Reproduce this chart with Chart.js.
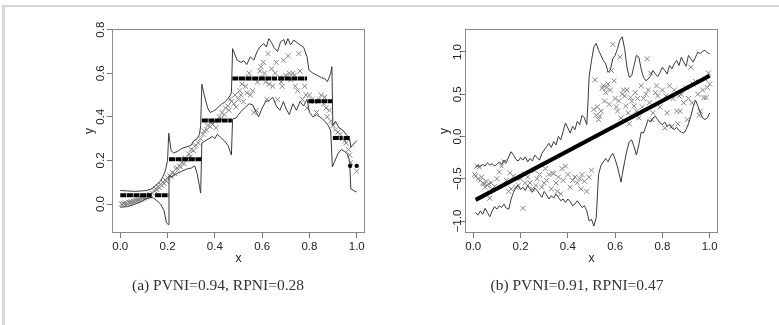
<!DOCTYPE html>
<html>
<head>
<meta charset="utf-8">
<script src="https://cdn.jsdelivr.net/npm/chart.js@4"></script>
<style>
body { margin: 0; background: #fff; width: 779px; height: 325px; position: relative; overflow: hidden; }
#frame { position: absolute; left: 2px; top: 5px; width: 777px; height: 320px; border-top: 2px solid #d6d6d6; border-left: 3px solid #d6d6d6; }
canvas { position: absolute; top: 0; }
.cap { position: absolute; top: 276px; font-family: "Liberation Serif", serif; font-size: 15.5px; color: #333; white-space: nowrap; transform: translateX(-50%); }
</style>
</head>
<body>
<div id="frame"></div>
<canvas id="chartA" width="320" height="300" style="left:60px"></canvas>
<canvas id="chartB" width="320" height="300" style="left:410px"></canvas>
<div class="cap" style="left:218px">(a) PVNI=0.94, RPNI=0.28</div>
<div class="cap" style="left:577px">(b) PVNI=0.91, RPNI=0.47</div>
<script>
// tick labels
var xTicks = [0, 0.2, 0.4, 0.6, 0.8, 1.0];
var yTicksA = [0, 0.2, 0.4, 0.6, 0.8];
var yTicksB = [-1, -0.5, 0, 0.5, 1];

// (a) observations
var obsA = [
  [0.005, 0.000], [0.010, -0.002], [0.015, 0.003], [0.020, 0.000], [0.025, 0.005], [0.030, 0.002],
  [0.035, 0.008], [0.040, 0.006], [0.045, 0.010], [0.050, 0.008], [0.055, 0.013], [0.060, 0.011],
  [0.065, 0.016], [0.070, 0.014], [0.075, 0.020], [0.080, 0.018], [0.085, 0.024], [0.090, 0.022],
  [0.095, 0.027], [0.100, 0.030], [0.105, 0.028], [0.110, 0.034], [0.115, 0.038], [0.120, 0.036],
  [0.125, 0.045], [0.135, 0.050], [0.145, 0.060], [0.150, 0.070], [0.155, 0.066], [0.160, 0.080],
  [0.165, 0.076], [0.170, 0.090], [0.175, 0.085], [0.180, 0.100], [0.185, 0.095], [0.190, 0.110],
  [0.195, 0.105], [0.200, 0.120], [0.210, 0.130], [0.215, 0.125], [0.220, 0.145], [0.230, 0.140],
  [0.235, 0.160], [0.240, 0.165], [0.250, 0.175], [0.255, 0.170], [0.260, 0.190], [0.270, 0.185],
  [0.275, 0.210], [0.280, 0.205], [0.290, 0.230], [0.295, 0.215], [0.300, 0.250], [0.310, 0.245],
  [0.315, 0.265], [0.320, 0.270], [0.330, 0.280], [0.340, 0.300], [0.350, 0.320], [0.355, 0.335],
  [0.365, 0.340], [0.370, 0.360], [0.380, 0.355], [0.385, 0.375], [0.390, 0.365], [0.400, 0.380],
  [0.405, 0.350], [0.420, 0.400], [0.425, 0.390], [0.430, 0.420], [0.440, 0.410], [0.445, 0.440],
  [0.455, 0.450], [0.460, 0.430], [0.465, 0.480], [0.470, 0.470], [0.480, 0.460], [0.485, 0.500],
  [0.490, 0.445], [0.500, 0.480], [0.505, 0.520], [0.510, 0.500], [0.515, 0.550], [0.520, 0.470],
  [0.530, 0.540], [0.535, 0.510], [0.540, 0.580], [0.545, 0.600], [0.550, 0.500], [0.560, 0.520],
  [0.565, 0.420], [0.575, 0.430], [0.580, 0.560], [0.590, 0.610], [0.595, 0.630], [0.600, 0.580],
  [0.605, 0.650], [0.610, 0.600], [0.615, 0.560], [0.620, 0.480], [0.625, 0.690], [0.630, 0.550],
  [0.640, 0.620], [0.645, 0.540], [0.655, 0.600], [0.660, 0.650], [0.665, 0.480], [0.675, 0.580],
  [0.680, 0.560], [0.685, 0.540], [0.690, 0.660], [0.700, 0.590], [0.705, 0.580], [0.710, 0.680],
  [0.715, 0.600], [0.720, 0.570], [0.730, 0.600], [0.735, 0.590], [0.740, 0.540], [0.750, 0.520],
  [0.755, 0.690], [0.760, 0.610], [0.770, 0.480], [0.780, 0.540], [0.785, 0.500], [0.790, 0.440],
  [0.800, 0.500], [0.810, 0.480], [0.820, 0.470], [0.830, 0.420], [0.840, 0.480], [0.850, 0.500],
  [0.860, 0.460], [0.865, 0.490], [0.870, 0.440], [0.875, 0.400], [0.885, 0.430], [0.890, 0.380],
  [0.900, 0.360], [0.910, 0.340], [0.920, 0.330], [0.930, 0.320], [0.940, 0.300], [0.950, 0.290],
  [0.955, 0.280], [0.960, 0.300], [0.965, 0.250], [0.970, 0.225], [0.975, 0.190], [1.000, 0.150]
];

// (a) fitted steps: [from, to, value]
var stepsA = [
  [0.000, 0.133, 0.040], [0.147, 0.204, 0.040], [0.206, 0.343, 0.205], [0.345, 0.472, 0.383],
  [0.474, 0.663, 0.576], [0.668, 0.790, 0.576], [0.795, 0.897, 0.471], [0.899, 0.940, 0.303],
  [0.945, 0.970, 0.303]
];
var dotsA = [[0.972, 0.175], [1.000, 0.175]];

// (a) upper / lower band
var upperA = [
  [0.00, 0.062], [0.03, 0.060], [0.06, 0.058], [0.09, 0.060], [0.11, 0.062], [0.13, 0.068],
  [0.15, 0.085], [0.17, 0.105], [0.18, 0.125], [0.19, 0.150], [0.20, 0.200], [0.205, 0.325],
  [0.215, 0.245], [0.225, 0.235], [0.24, 0.240], [0.26, 0.255], [0.28, 0.262], [0.30, 0.270],
  [0.31, 0.290], [0.325, 0.300], [0.335, 0.320], [0.340, 0.360], [0.345, 0.550], [0.355, 0.500],
  [0.37, 0.440], [0.38, 0.420], [0.39, 0.425], [0.40, 0.430], [0.415, 0.445], [0.43, 0.460],
  [0.445, 0.470], [0.46, 0.490], [0.470, 0.510], [0.475, 0.713], [0.494, 0.660], [0.51, 0.650],
  [0.522, 0.657], [0.535, 0.640], [0.55, 0.675], [0.565, 0.660], [0.578, 0.698], [0.59, 0.720],
  [0.607, 0.736], [0.618, 0.720], [0.628, 0.759], [0.64, 0.740], [0.65, 0.718], [0.665, 0.700],
  [0.678, 0.744], [0.692, 0.755], [0.699, 0.729], [0.709, 0.759], [0.72, 0.730], [0.734, 0.752],
  [0.748, 0.740], [0.762, 0.729], [0.775, 0.720], [0.79, 0.675], [0.798, 0.614], [0.815, 0.600],
  [0.833, 0.590], [0.85, 0.580], [0.865, 0.575], [0.876, 0.561], [0.89, 0.600], [0.895, 0.630],
  [0.899, 0.360], [0.91, 0.380], [0.925, 0.350], [0.94, 0.340], [0.955, 0.320], [0.97, 0.300],
  [0.975, 0.260], [0.99, 0.280], [1.00, 0.290]
];
var lowerA = [
  [0.00, -0.015], [0.03, -0.012], [0.06, -0.002], [0.09, 0.012], [0.11, 0.025], [0.13, 0.030],
  [0.14, 0.028], [0.155, 0.015], [0.17, 0.000], [0.185, -0.030], [0.195, -0.085], [0.203, -0.095],
  [0.206, 0.130], [0.22, 0.125], [0.24, 0.140], [0.26, 0.150], [0.28, 0.160], [0.30, 0.165],
  [0.315, 0.175], [0.325, 0.140], [0.335, 0.080], [0.340, 0.050], [0.345, 0.280], [0.36, 0.290],
  [0.375, 0.300], [0.39, 0.310], [0.40, 0.300], [0.41, 0.320], [0.425, 0.305], [0.44, 0.290],
  [0.455, 0.270], [0.465, 0.240], [0.470, 0.225], [0.475, 0.390], [0.49, 0.395], [0.50, 0.410],
  [0.515, 0.430], [0.53, 0.445], [0.545, 0.460], [0.56, 0.455], [0.575, 0.420], [0.585, 0.400],
  [0.60, 0.440], [0.615, 0.470], [0.63, 0.475], [0.645, 0.490], [0.66, 0.450], [0.675, 0.430],
  [0.69, 0.470], [0.70, 0.440], [0.715, 0.410], [0.73, 0.460], [0.745, 0.430], [0.76, 0.470],
  [0.775, 0.450], [0.79, 0.480], [0.80, 0.420], [0.815, 0.400], [0.83, 0.410], [0.85, 0.395],
  [0.865, 0.380], [0.88, 0.360], [0.89, 0.335], [0.897, 0.170], [0.905, 0.190], [0.92, 0.230],
  [0.935, 0.250], [0.95, 0.240], [0.96, 0.230], [0.97, 0.200], [0.975, 0.070], [0.99, 0.060],
  [1.00, 0.055]
];

// (b) observations
var obsB = [
  [0.005, -0.45], [0.010, -0.47], [0.015, -0.35], [0.020, -0.50], [0.025, -0.36], [0.030, -0.52],
  [0.035, -0.48], [0.040, -0.55], [0.045, -0.56], [0.050, -0.60], [0.055, -0.53], [0.060, -0.58],
  [0.065, -0.56], [0.070, -0.73], [0.075, -0.55], [0.080, -0.62], [0.090, -0.59], [0.100, -0.50],
  [0.110, -0.42], [0.120, -0.35], [0.130, -0.30], [0.140, -0.52], [0.150, -0.65], [0.155, -0.43],
  [0.160, -0.62], [0.170, -0.47], [0.180, -0.60], [0.190, -0.58], [0.200, -0.50], [0.210, -0.85],
  [0.215, -0.44], [0.220, -0.55], [0.230, -0.48], [0.240, -0.55], [0.250, -0.62], [0.260, -0.40],
  [0.265, -0.58], [0.270, -0.50], [0.280, -0.45], [0.290, -0.60], [0.300, -0.55], [0.305, -0.38],
  [0.310, -0.52], [0.320, -0.45], [0.330, -0.62], [0.335, -0.43], [0.340, -0.44], [0.350, -0.55],
  [0.355, -0.65], [0.360, -0.48], [0.370, -0.68], [0.375, -0.38], [0.380, -0.52], [0.390, -0.35],
  [0.400, -0.45], [0.410, -0.60], [0.420, -0.52], [0.430, -0.48], [0.440, -0.55], [0.450, -0.50],
  [0.455, -0.62], [0.460, -0.45], [0.470, -0.53], [0.480, -0.65], [0.490, -0.48], [0.500, -0.40],
  [0.510, 0.32], [0.515, 0.67], [0.520, 0.25], [0.525, 0.35], [0.530, 0.20], [0.535, 0.24],
  [0.540, 0.30], [0.545, 0.57], [0.550, 0.60], [0.555, 0.42], [0.560, 0.52], [0.565, 0.58],
  [0.570, 0.62], [0.575, 0.38], [0.580, 0.55], [0.585, 0.78], [0.590, 1.09], [0.595, 0.66],
  [0.600, 0.45], [0.605, 0.35], [0.610, 0.30], [0.615, 0.42], [0.620, 0.94], [0.625, 0.22],
  [0.630, 0.50], [0.635, 0.55], [0.640, 0.48], [0.645, 0.36], [0.650, 0.55], [0.655, 0.28],
  [0.660, 0.15], [0.665, 0.46], [0.670, 0.42], [0.680, 0.36], [0.685, 0.52], [0.690, 0.30],
  [0.695, 0.45], [0.700, 0.22], [0.710, 0.60], [0.715, 0.35], [0.720, 0.45], [0.730, 0.50],
  [0.735, 0.92], [0.740, 0.55], [0.745, 0.40], [0.750, 0.75], [0.755, 0.20], [0.760, 0.28],
  [0.770, 0.52], [0.775, 0.60], [0.780, 0.48], [0.790, 0.35], [0.800, 0.55], [0.810, 0.10],
  [0.815, 0.48], [0.820, 0.28], [0.830, 0.60], [0.840, 0.12], [0.845, 0.45], [0.850, 0.55],
  [0.860, 0.30], [0.865, 0.15], [0.870, 0.48], [0.875, 0.30], [0.880, 0.50], [0.890, 0.40],
  [0.900, 0.58], [0.905, 0.20], [0.910, 0.45], [0.920, 0.82], [0.925, 0.40], [0.930, 0.62],
  [0.940, 0.65], [0.950, 0.50], [0.955, 0.25], [0.960, 0.30], [0.970, 0.55], [0.975, 0.46],
  [0.980, 0.68], [0.985, 0.46], [0.990, 0.58], [0.995, 0.75], [1.000, 0.62]
];

// (b) fitted line ends
var fitB = [[0.01, -0.75], [1.00, 0.72]];

// (b) upper / lower band
var upperB = [
  [0.010, -0.37], [0.020, -0.34], [0.030, -0.36], [0.040, -0.33], [0.050, -0.35], [0.060, -0.31],
  [0.070, -0.34], [0.080, -0.32], [0.090, -0.35], [0.100, -0.33], [0.110, -0.30], [0.120, -0.33],
  [0.130, -0.28], [0.140, -0.31], [0.150, -0.24], [0.160, -0.18], [0.170, -0.22], [0.180, -0.27],
  [0.190, -0.29], [0.200, -0.25], [0.210, -0.28], [0.220, -0.24], [0.230, -0.30], [0.240, -0.26],
  [0.250, -0.29], [0.260, -0.22], [0.270, -0.25], [0.280, -0.28], [0.290, -0.20], [0.300, -0.16],
  [0.310, -0.12], [0.320, -0.08], [0.330, -0.13], [0.340, -0.06], [0.350, -0.10], [0.360, 0.00],
  [0.370, -0.04], [0.380, 0.06], [0.390, 0.16], [0.400, 0.10], [0.410, 0.04], [0.420, 0.12],
  [0.430, 0.08], [0.440, 0.18], [0.450, 0.14], [0.460, 0.25], [0.470, 0.22], [0.480, 0.14],
  [0.485, 0.40], [0.490, 0.71], [0.500, 0.90], [0.510, 1.06], [0.520, 1.10], [0.530, 1.02],
  [0.540, 0.96], [0.550, 0.90], [0.560, 0.86], [0.570, 0.76], [0.580, 0.79], [0.590, 0.92],
  [0.600, 0.96], [0.610, 1.04], [0.620, 1.14], [0.630, 1.18], [0.640, 1.04], [0.650, 0.82],
  [0.660, 0.70], [0.670, 0.72], [0.680, 0.84], [0.690, 0.96], [0.700, 0.94], [0.710, 0.80],
  [0.720, 0.70], [0.730, 0.66], [0.740, 0.68], [0.750, 0.72], [0.760, 0.78], [0.770, 0.74],
  [0.780, 0.71], [0.790, 0.76], [0.800, 0.82], [0.810, 0.78], [0.820, 0.74], [0.830, 0.84],
  [0.840, 0.80], [0.850, 0.86], [0.860, 0.90], [0.870, 0.84], [0.880, 0.94], [0.890, 0.88],
  [0.900, 0.83], [0.910, 0.96], [0.920, 0.92], [0.930, 0.88], [0.940, 0.94], [0.950, 1.00],
  [0.960, 0.98], [0.970, 1.01], [0.980, 1.02], [0.990, 0.99], [1.000, 0.98]
];
var lowerB = [
  [0.010, -0.90], [0.020, -0.93], [0.030, -0.88], [0.040, -0.92], [0.050, -0.85], [0.060, -0.90],
  [0.070, -0.95], [0.080, -0.88], [0.090, -0.83], [0.100, -0.86], [0.110, -0.82], [0.120, -0.84],
  [0.130, -0.80], [0.140, -0.85], [0.150, -0.86], [0.160, -0.74], [0.170, -0.66], [0.180, -0.61],
  [0.190, -0.58], [0.200, -0.63], [0.210, -0.60], [0.220, -0.64], [0.230, -0.58], [0.240, -0.62],
  [0.250, -0.66], [0.260, -0.61], [0.270, -0.64], [0.280, -0.68], [0.290, -0.72], [0.300, -0.65],
  [0.310, -0.69], [0.320, -0.74], [0.330, -0.70], [0.340, -0.73], [0.350, -0.68], [0.360, -0.72],
  [0.370, -0.76], [0.380, -0.74], [0.390, -0.78], [0.400, -0.74], [0.410, -0.77], [0.420, -0.82],
  [0.430, -0.80], [0.440, -0.76], [0.450, -0.80], [0.460, -0.84], [0.470, -0.82], [0.480, -0.88],
  [0.490, -1.00], [0.500, -0.98], [0.510, -1.06], [0.520, -0.96], [0.530, -0.45], [0.540, -0.34],
  [0.550, -0.30], [0.560, -0.26], [0.570, -0.30], [0.580, -0.24], [0.590, -0.20], [0.600, -0.27],
  [0.610, -0.36], [0.620, -0.48], [0.625, -0.54], [0.630, -0.45], [0.640, -0.30], [0.650, -0.16],
  [0.660, -0.06], [0.670, -0.04], [0.680, -0.12], [0.690, -0.22], [0.700, -0.10], [0.710, 0.05],
  [0.720, 0.04], [0.730, 0.12], [0.740, 0.20], [0.750, 0.17], [0.760, 0.22], [0.770, 0.24],
  [0.780, 0.20], [0.790, 0.16], [0.800, 0.14], [0.810, 0.17], [0.820, 0.12], [0.830, 0.14],
  [0.840, 0.10], [0.850, 0.08], [0.860, 0.11], [0.870, 0.07], [0.880, 0.05], [0.890, 0.04],
  [0.900, 0.08], [0.910, 0.15], [0.920, 0.24], [0.930, 0.35], [0.940, 0.43], [0.950, 0.36],
  [0.960, 0.28], [0.970, 0.22], [0.980, 0.20], [0.990, 0.22], [1.000, 0.28]
];


function pts(list) {
  return list.map(function (p) { return {x: p[0], y: p[1]}; });
}

// step segments -> points with a gap between segments
function stepPts(steps) {
  var out = [];
  for (var i = 0; i < steps.length; i++) {
    out.push({x: steps[i][0], y: steps[i][2]});
    out.push({x: steps[i][1], y: steps[i][2]});
    out.push({x: steps[i][1], y: null});
  }
  return out;
}

function fmt(v) {
  return v.toFixed(1).replace('-', '\u2212');
}

var sans = 'Liberation Sans';

// R style box around the plot region
var boxPlugin = {
  id: 'box',
  afterDraw: function (chart) {
    var a = chart.chartArea;
    var ctx = chart.ctx;
    ctx.save();
    ctx.strokeStyle = '#8a8a8a';
    ctx.lineWidth = 1;
    ctx.strokeRect(a.left + 0.5, a.top + 0.5, a.right - a.left - 1, a.bottom - a.top - 1);
    ctx.restore();
  }
};

function makePanel(id, p) {
  var ctx = document.getElementById(id).getContext('2d');

  var datasets = [];
  datasets.push({
    data: p.fit, showLine: true, borderColor: '#000', borderWidth: p.fitWidth,
    borderDash: p.fitDash, pointRadius: 0, spanGaps: false
  });
  if (p.dots) {
    datasets.push({
      data: p.dots, pointRadius: 2.2, backgroundColor: '#000', borderColor: '#000', borderWidth: 0
    });
  }
  datasets.push({
    data: pts(p.upper), showLine: true, borderColor: '#3a3a3a', borderWidth: 1, pointRadius: 0
  });
  datasets.push({
    data: pts(p.lower), showLine: true, borderColor: '#3a3a3a', borderWidth: 1, pointRadius: 0
  });
  datasets.push({
    data: pts(p.obs), pointStyle: 'crossRot', pointRadius: 3.5, borderColor: '#858585',
    backgroundColor: '#858585', borderWidth: 1
  });

  return new Chart(ctx, {
    type: 'scatter',
    data: {datasets: datasets},
    options: {
      responsive: false,
      animation: false,
      events: [],
      layout: {padding: {left: 0, top: 29, right: p.padRight, bottom: 27}},
      plugins: {legend: {display: false}, tooltip: {enabled: false}},
      scales: {
        x: {
          type: 'linear', min: -0.035, max: 1.035,
          afterBuildTicks: function (s) { s.ticks = xTicks.map(function (v) { return {value: v}; }); },
          afterFit: function (s) { s.height = 40; },
          grid: {drawOnChartArea: false, drawTicks: true, tickLength: 5, color: '#777'},
          border: {display: false},
          ticks: {
            padding: 2, color: '#222', maxRotation: 0, autoSkip: false,
            font: {family: sans, size: 11.5},
            callback: function (v) { return fmt(v); }
          },
          title: {display: true, text: 'x', color: '#222', font: {family: sans, size: 12}, padding: {top: 0, bottom: 7}}
        },
        y: {
          type: 'linear', min: p.yMin, max: p.yMax,
          afterBuildTicks: function (s) { s.ticks = p.yTicks.map(function (v) { return {value: v}; }); },
          afterFit: function (s) { s.width = p.yWidth; },
          grid: {drawOnChartArea: false, drawTicks: true, tickLength: 5, color: '#777'},
          border: {display: false},
          ticks: {
            padding: p.yPad, color: '#222', minRotation: 90, maxRotation: 90, crossAlign: 'center',
            autoSkip: false, font: {family: sans, size: 11.5},
            callback: function (v) { return fmt(v); }
          },
          title: {display: true, text: 'y', color: '#222', font: {family: sans, size: 12}, padding: {top: p.yTitlePad, bottom: 0}}
        }
      }
    },
    plugins: [boxPlugin]
  });
}

makePanel('chartA', {
  obs: obsA, upper: upperA, lower: lowerA, fit: stepPts(stepsA), dots: pts(dotsA),
  fitWidth: 4, fitDash: [6, 0.6],
  yMin: -0.133, yMax: 0.803, yTicks: yTicksA, yWidth: 52, yPad: -1.7, yTitlePad: 22, padRight: 15
});

makePanel('chartB', {
  obs: obsB, upper: upperB, lower: lowerB, fit: pts(fitB), dots: null,
  fitWidth: 4, fitDash: [],
  yMin: -1.142, yMax: 1.272, yTicks: yTicksB, yWidth: 55, yPad: -9.5, yTitlePad: 27, padRight: 12
});
</script>
</body>
</html>
